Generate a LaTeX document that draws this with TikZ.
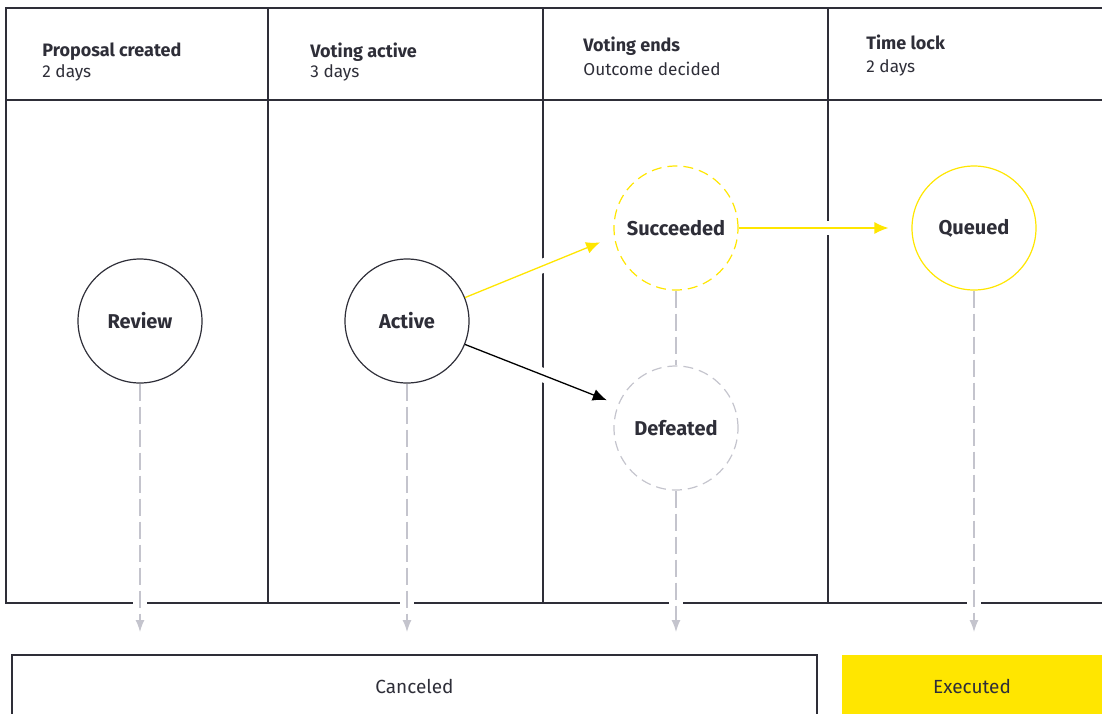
\documentclass[tikz,border=0pt]{standalone}
\usepackage{fontspec}
\setmainfont{Fira Sans}
\usetikzlibrary{arrows.meta}
\definecolor{eyyellow}{RGB}{255,230,0}
\definecolor{eydark}{RGB}{46,46,56}
\definecolor{eygray}{RGB}{196,196,205}
\begin{document}
\begin{tikzpicture}[x=0.5pt,y=-0.5pt,
  grid/.style={draw=eydark,line width=0.65pt},
  state/.style={circle,minimum size=62pt,inner sep=0pt,line width=0.6pt,text=eydark,font=\fontsize{10}{12}\selectfont\bfseries},
  halo/.style={preaction={draw=white,solid,line width=7pt,shorten <=3pt,-}},
  flow/.style={halo,line width=0.65pt,-{Latex[length=7pt,width=6pt]}},
  fall/.style={halo,draw=eygray,line width=0.65pt,dash pattern=on 8.5pt off 3pt,-{Latex[length=6pt,width=4.5pt]}},
  head/.style={anchor=west,inner sep=0pt,text=eydark,font=\fontsize{9}{11}\selectfont\bfseries},
  sub/.style={anchor=west,inner sep=0pt,text=eydark,font=\fontsize{8.6}{10}\selectfont},
  outcome/.style={rectangle,minimum height=31pt,inner sep=0pt,text=eydark,font=\fontsize{9.5}{11}\selectfont}]
\useasboundingbox (0,0) rectangle (1102,713);

% timeline grid
\draw [grid] (1102,8) -- (6,8) -- (6,603) -- (1102,603);
\draw [grid] (6,100) -- (1102,100);
\foreach \x in {268,543,828} \draw [grid] (\x,8) -- (\x,603);

\node [head] (hPropose) at (42,52) {Proposal created};
\node [sub]  (dPropose) at (42,73) {2 days};
\node [head] (hVoting) at (310,52) {Voting active};
\node [sub]  (dVoting) at (310,73) {3 days};
\node [head] (hEnds) at (583,46) {Voting ends};
\node [sub]  (dEnds) at (583,69) {Outcome decided};
\node [head] (hLock) at (866,42) {Time lock};
\node [sub]  (dLock) at (866,68) {2 days};

% states
\node [state,draw=eydark] (review) at (140,321) {Review};
\node [state,draw=eydark] (active) at (407,321) {Active};
\node [state,draw=eyyellow,dash pattern=on 5pt off 3pt] (succeeded) at (676,228) {Succeeded};
\node [state,draw=eygray,dash pattern=on 5pt off 3pt] (defeated) at (676,428) {Defeated};
\node [state,draw=eyyellow] (queued) at (974,228) {Queued};

\node [outcome,draw=eydark,line width=0.65pt,minimum width=402.5pt] (canceled) at (414.5,686) {Canceled};
\node [outcome,fill=eyyellow,minimum width=130pt] (executed) at (972,686) {Executed};

\draw [flow,draw=eyyellow,shorten >=7.5pt] (active.22) -- (succeeded.188);
\draw [flow,draw=black,shorten >=6pt] (active.-22) -- (defeated.158);
\draw [flow,draw=eyyellow,shorten >=11.5pt] (succeeded.east) -- (queued.west);

% drops to the outcome boxes
\coordinate (reviewEnd) at (140,632);
\coordinate (activeEnd) at (407,632);
\coordinate (defeatedEnd) at (676,632);
\coordinate (queuedEnd) at (974,632);
\draw [fall] (review) -- (reviewEnd);
\draw [fall] (active) -- (activeEnd);
\draw [fall] (defeated) -- (defeatedEnd);
\draw [fall] (queued) -- (queuedEnd);
\draw [draw=eygray,line width=0.65pt,dash pattern=on 8.5pt off 3pt] (succeeded) -- (defeated);

\end{tikzpicture}
\end{document}
